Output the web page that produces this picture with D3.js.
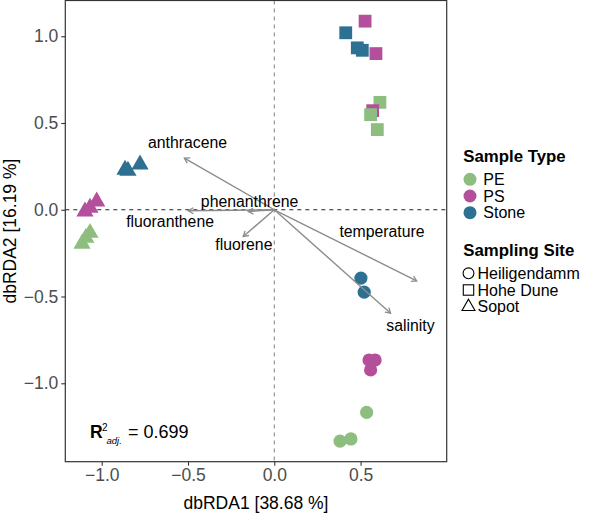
<!DOCTYPE html>
<html>
<head>
<meta charset="utf-8">
<script src="https://cdn.jsdelivr.net/npm/d3@7"></script>
<style>
  body { margin: 0; background: #fff; }
  text { font-family: "Liberation Sans", Arial, sans-serif; }
</style>
</head>
<body>
<svg id="chart" width="592" height="513"></svg>
<script>
"use strict";

// sample scores on dbRDA1 / dbRDA2
let sampleX    = [0.414, 0.481, 0.510, 0.526, 0.589, 0.612, 0.570, 0.558, 0.597,
                  -0.865, -0.848, -0.778, -1.097, -1.029, -1.068, -1.068, -1.114, -1.092,
                  0.502, 0.521, 0.549, 0.584, 0.558, 0.535, 0.381, 0.444];
let sampleY    = [1.020, 0.933, 0.919, 1.087, 0.900, 0.619, 0.571, 0.548, 0.462,
                  0.231, 0.225, 0.261, -0.010, 0.048, 0.012, -0.133, -0.196, -0.162,
                  -0.394, -0.475, -0.866, -0.866, -0.923, -1.168, -1.333, -1.321];
let sampleType = ["Stone", "Stone", "Stone", "PS", "PS", "PE", "PS", "PE", "PE",
                  "Stone", "Stone", "Stone", "PS", "PS", "PS", "PE", "PE", "PE",
                  "Stone", "Stone", "PS", "PS", "PS", "PE", "PE", "PE"];
let sampleSite = ["Hohe Dune", "Hohe Dune", "Hohe Dune", "Hohe Dune", "Hohe Dune", "Hohe Dune", "Hohe Dune", "Hohe Dune", "Hohe Dune",
                  "Sopot", "Sopot", "Sopot", "Sopot", "Sopot", "Sopot", "Sopot", "Sopot", "Sopot",
                  "Heiligendamm", "Heiligendamm", "Heiligendamm", "Heiligendamm", "Heiligendamm", "Heiligendamm", "Heiligendamm", "Heiligendamm"];

// environmental vectors
let vectorNames = ["anthracene", "phenanthrene", "fluoranthene", "fluorene", "temperature", "salinity"];
let vectorX     = [-0.521, -0.151, -0.498, -0.180, 0.825, 0.674];
let vectorY     = [0.298, -0.010, -0.006, -0.154, -0.410, -0.596];
let labelX      = [-0.503, -0.143, -0.604, -0.176, 0.624, 0.789];
let labelY      = [0.387, 0.049, -0.066, -0.202, -0.127, -0.664];

let typeLevels = ["PE", "PS", "Stone"];
let typeColors = ["#8dbe80", "#b34f9b", "#2e7091"];
let siteLevels = ["Heiligendamm", "Hohe Dune", "Sopot"];

let xTicks = [-1.0, -0.5, 0.0, 0.5];
let yTicks = [-1.0, -0.5, 0.0, 0.5, 1.0];

let xTitle = "dbRDA1 [38.68 %]";
let yTitle = "dbRDA2 [16.19 %]";
let r2Value = "0.699";

let svg = d3.select("#chart");
let panel = { left: 65.3, right: 446.7, top: 0.5, bottom: 461.7 };

let xScale = d3.scaleLinear().domain([-1.211, 0.999]).range([panel.left, panel.right]);
let yScale = d3.scaleLinear().domain([-1.452, 1.206]).range([panel.bottom, panel.top]);
let colorScale = d3.scaleOrdinal().domain(typeLevels).range(typeColors);

svg.append("rect")
  .attr("x", panel.left).attr("y", panel.top)
  .attr("width", panel.right - panel.left).attr("height", panel.bottom - panel.top)
  .style("fill", "#fff");

// reference lines through origin
svg.append("line")
  .attr("x1", xScale(0)).attr("x2", xScale(0))
  .attr("y1", panel.top).attr("y2", panel.bottom)
  .style("stroke", "#8a8a8a").style("stroke-width", 1.1).style("stroke-dasharray", "4,4");
svg.append("line")
  .attr("x1", panel.left).attr("x2", panel.right)
  .attr("y1", yScale(0)).attr("y2", yScale(0))
  .style("stroke", "#222").style("stroke-width", 1.1).style("stroke-dasharray", "4,4");

// points
function drawShape(sel, site, fill, stroke) {
  if (site === "Heiligendamm") {
    sel.append("circle").attr("r", 6.6);
  } else if (site === "Hohe Dune") {
    sel.append("rect").attr("x", -6.4).attr("y", -6.4).attr("width", 12.8).attr("height", 12.8);
  } else {
    let s = 17.2, h = s * Math.sqrt(3) / 2;
    sel.append("path").attr("d", `M0,${-h * 2 / 3}L${s / 2},${h / 3}L${-s / 2},${h / 3}Z`);
  }
  sel.selectAll("*").style("fill", fill).style("stroke", stroke || "none");
}

let points = svg.append("g").classed("points", true);
sampleX.forEach((x, i) => {
  let g = points.append("g").attr("transform", `translate(${xScale(x)},${yScale(sampleY[i])})`);
  drawShape(g, sampleSite[i], colorScale(sampleType[i]));
});

// arrows
svg.append("defs").append("marker")
  .attr("id", "arrowhead").attr("viewBox", "-6 -5 8 10")
  .attr("refX", 0).attr("refY", 0)
  .attr("markerWidth", 8).attr("markerHeight", 10)
  .attr("markerUnits", "userSpaceOnUse").attr("orient", "auto")
  .append("path").attr("d", "M-5,-3L0,0L-5,3")
  .style("fill", "none").style("stroke", "#8c8c8c").style("stroke-width", 1.3);

let arrows = svg.append("g").classed("arrows", true);
vectorNames.forEach((name, i) => {
  arrows.append("line")
    .attr("x1", xScale(0)).attr("y1", yScale(0))
    .attr("x2", xScale(vectorX[i])).attr("y2", yScale(vectorY[i]))
    .style("stroke", "#8c8c8c").style("stroke-width", 1.4)
    .attr("marker-end", "url(#arrowhead)");
  arrows.append("text")
    .attr("x", xScale(labelX[i])).attr("y", yScale(labelY[i])).attr("dy", "0.35em")
    .attr("text-anchor", "middle").style("font-size", "15.8px").style("fill", "#000")
    .text(name);
});

// R2 annotation
let r2 = svg.append("text").attr("x", 90).attr("y", 438.3).style("fill", "#000");
r2.append("tspan").style("font-size", "17.5px").style("font-weight", "bold").text("R");
r2.append("tspan").attr("x", 102).attr("y", 431).style("font-size", "10px").text("2");
r2.append("tspan").attr("x", 106.5).attr("y", 444).style("font-size", "9.5px").style("font-style", "italic").text("adj.");
r2.append("tspan").attr("x", 128).attr("y", 438.3).style("font-size", "18px").text("= " + r2Value);

// panel border
svg.append("rect")
  .attr("x", panel.left).attr("y", panel.top)
  .attr("width", panel.right - panel.left).attr("height", panel.bottom - panel.top)
  .style("fill", "none").style("stroke", "#333").style("stroke-width", 1.2);

// axes
let xAxis = svg.append("g").attr("transform", `translate(0,${panel.bottom})`)
  .call(d3.axisBottom(xScale).tickValues(xTicks).tickFormat(d3.format(".1f")).tickSize(4).tickPadding(3));
let yAxis = svg.append("g").attr("transform", `translate(${panel.left},0)`)
  .call(d3.axisLeft(yScale).tickValues(yTicks).tickFormat(d3.format(".1f")).tickSize(4).tickPadding(3));
[xAxis, yAxis].forEach(ax => {
  ax.select(".domain").remove();
  ax.selectAll(".tick line").style("stroke", "#333").style("stroke-width", 1.1);
  ax.selectAll(".tick text").style("font-size", "17.5px").style("fill", "#4d4d4d")
    .style("font-family", "'Liberation Sans', Arial, sans-serif");
});

svg.append("text").attr("x", (panel.left + panel.right) / 2).attr("y", 509)
  .attr("text-anchor", "middle").style("font-size", "17.5px").text(xTitle);
svg.append("text")
  .attr("transform", `translate(16,${(panel.top + panel.bottom) / 2}) rotate(-90)`)
  .attr("text-anchor", "middle").style("font-size", "17.5px").text(yTitle);

// legends
let legend = svg.append("g").classed("legend", true);
legend.append("text").attr("x", 463.3).attr("y", 162)
  .style("font-size", "16.8px").style("font-weight", "bold").text("Sample Type");
typeLevels.forEach((t, i) => {
  let cy = 179.3 + i * 16.7;
  legend.append("circle").attr("cx", 470).attr("cy", cy).attr("r", 6.5).style("fill", typeColors[i]);
  legend.append("text").attr("x", 483.3).attr("y", cy).attr("dy", "0.35em")
    .style("font-size", "16px").text(t);
});

legend.append("text").attr("x", 463.3).attr("y", 256)
  .style("font-size", "16.8px").style("font-weight", "bold").text("Sampling Site");
siteLevels.forEach((s, i) => {
  let cy = 273.3 + i * 16.7;
  let g = legend.append("g").attr("transform", `translate(468.5,${cy})`);
  if (s === "Heiligendamm") {
    g.append("circle").attr("r", 5.4);
  } else if (s === "Hohe Dune") {
    g.append("rect").attr("x", -5.2).attr("y", -5.2).attr("width", 10.4).attr("height", 10.4);
  } else {
    let sd = 13, h = sd * Math.sqrt(3) / 2;
    g.append("path").attr("d", `M0,${-h * 2 / 3}L${sd / 2},${h / 3}L${-sd / 2},${h / 3}Z`);
  }
  g.selectAll("*").style("fill", "none").style("stroke", "#000").style("stroke-width", 1.1);
  legend.append("text").attr("x", 477.5).attr("y", cy).attr("dy", "0.35em")
    .style("font-size", "16px").text(s);
});
</script>
</body>
</html>
